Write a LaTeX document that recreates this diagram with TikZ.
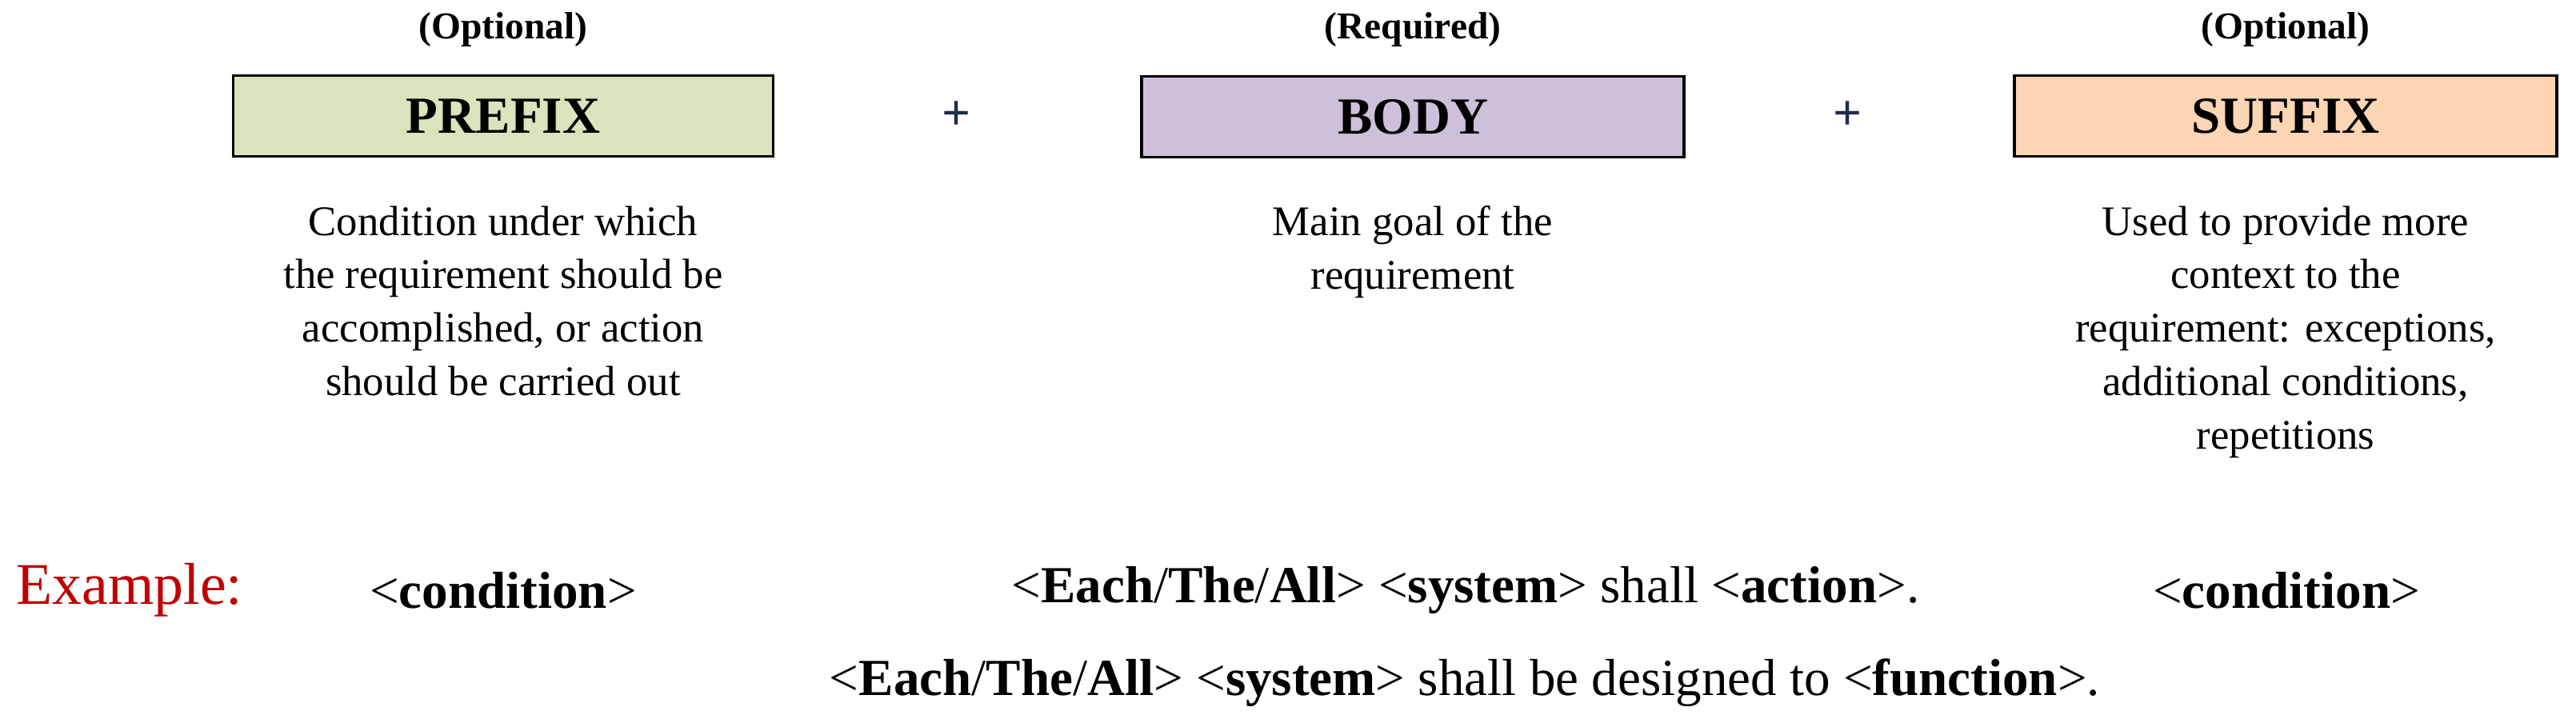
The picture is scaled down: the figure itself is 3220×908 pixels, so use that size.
\documentclass[tikz,border=0pt]{standalone}
\usepackage{fontspec}
\setmainfont{Liberation Serif}
\definecolor{pgreen}{RGB}{216,228,188}
\definecolor{ppurple}{RGB}{204,192,218}
\definecolor{porange}{RGB}{252,213,180}
\definecolor{plusc}{RGB}{31,45,70}
\definecolor{exred}{RGB}{192,0,0}
\tikzset{
  part/.style={draw=black,line width=1pt,minimum width=6.75cm,minimum height=1.01cm,inner sep=0pt,font=\fontsize{18.5}{20}\selectfont\bfseries},
  tag/.style={font=\fontsize{13.5}{15}\selectfont\bfseries},
  desc/.style={align=center,font=\fontsize{15}{19}\selectfont},
  plus/.style={text=plusc,font=\fontsize{18}{20}\selectfont\bfseries},
  ex/.style={font=\fontsize{18.5}{22}\selectfont}
}
\begin{document}
\begin{tikzpicture}[x=0.01cm,y=-0.01cm]
\useasboundingbox (0,0) rectangle (3220,908);
\node[part,fill=pgreen] (pre) at (629,145) {PREFIX};
\node[part,fill=ppurple,minimum width=6.78cm] (body) at (1766,146) {BODY};
\node[part,fill=porange,minimum width=6.78cm] (suf) at (2857,145) {SUFFIX};
\node[tag] (t1) at (629,37) {(Optional)};
\node[tag] (t2) at (1766,37) {(Required)};
\node[tag] (t3) at (2857,37) {(Optional)};
\node[plus] (p1) at (1196,145) {+};
\node[plus] (p2) at (2310,145) {+};
\node[desc,anchor=north] (d1) at (629,245) {Condition under which\\the requirement should be\\accomplished, or action\\should be carried out};
\node[desc,anchor=north] (d2) at (1766,245) {Main goal of the\\requirement};
\node[desc,anchor=north] (d3) at (2857,245) {Used to provide more\\context to the\\requirement: exceptions,\\additional conditions,\\repetitions};
\node[ex,text=exred,anchor=west,font=\fontsize{21}{24}\selectfont] (exl) at (8,738) {Example:};
\node[ex] (e1) at (629,738) {<\textbf{condition}>};
\node[ex] (e2) at (1832,738) {<\textbf{Each}/\textbf{The}/\textbf{All}> <\textbf{system}> shall <\textbf{action}>.};
\node[ex] (e3) at (2858,738) {<\textbf{condition}>};
\node[ex] (e4) at (1831,854) {<\textbf{Each}/\textbf{The}/\textbf{All}> <\textbf{system}> shall be designed to <\textbf{function}>.};
\end{tikzpicture}
\end{document}
